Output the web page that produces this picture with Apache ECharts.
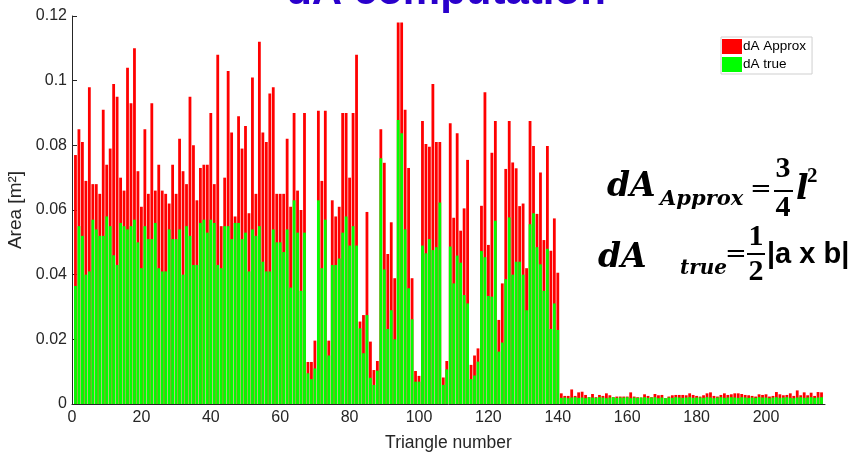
<!DOCTYPE html>
<html>
<head>
<meta charset="utf-8">
<script src="https://cdn.jsdelivr.net/npm/echarts@6/dist/echarts.min.js"></script>
<style>
  html, body { margin: 0; padding: 0; background: #fff; }
  #chart { width: 860px; height: 453px; }
</style>
</head>
<body>
<div id="chart"></div>
<script>
  // triangle 1..140 are the big ones, 141..216 the tiny tail
  let approxA = [
    0.077, 0.085, 0.081, 0.069, 0.098, 0.068, 0.068, 0.065, 0.091, 0.074,
    0.079, 0.099, 0.095, 0.070, 0.066, 0.104, 0.093, 0.110, 0.072, 0.061,
    0.085, 0.065, 0.093, 0.066, 0.074, 0.066, 0.065, 0.062, 0.074, 0.065,
    0.082, 0.072, 0.068, 0.095
  ];
  let approxB = [
    0.080, 0.063, 0.073, 0.074, 0.074, 0.090, 0.068, 0.108, 0.055, 0.070,
    0.103, 0.084, 0.058, 0.089, 0.079, 0.086, 0.059, 0.101, 0.065, 0.112,
    0.084, 0.081, 0.096, 0.098, 0.065, 0.065, 0.065, 0.082, 0.061, 0.090,
    0.066, 0.060, 0.090, 0.013, 0.013, 0.0196
  ];
  let approxC = [
    0.0907, 0.069, 0.0907, 0.0196, 0.063, 0.058, 0.061, 0.090, 0.090, 0.070,
    0.090, 0.108, 0.0255, 0.0275, 0.0594, 0.0193, 0.0105, 0.0133, 0.085, 0.0746,
    0.0464, 0.0562, 0.0389, 0.118, 0.118, 0.091, 0.073, 0.0389, 0.0102, 0.0087,
    0.0875, 0.0804, 0.0796, 0.099, 0.081, 0.081
  ];
  let approxD = [
    0.0082, 0.0133, 0.0868, 0.0576, 0.0837, 0.0536, 0.0605, 0.0755, 0.0121, 0.015,
    0.0172, 0.0613, 0.0964, 0.0492, 0.0777, 0.0875, 0.026, 0.0373, 0.0727, 0.0875,
    0.0747, 0.0729, 0.0612, 0.062, 0.042, 0.0875, 0.0798, 0.0588, 0.0716, 0.0507,
    0.0798, 0.0474, 0.0574, 0.0406
  ];
  let approxTail = [
    0.0033, 0.0025, 0.0025, 0.0045, 0.0025, 0.0036, 0.0038, 0.0028, 0.0021, 0.0031,
    0.0021, 0.0028, 0.0025, 0.0033, 0.0027, 0.0021, 0.0023, 0.0023, 0.0023, 0.0023,
    0.0036, 0.0023, 0.0021, 0.0020, 0.0030, 0.0025, 0.0021, 0.0031, 0.0027, 0.0028,
    0.0018, 0.0023, 0.0027, 0.0028, 0.0028, 0.0028, 0.0027, 0.0033, 0.0028, 0.0025,
    0.0023, 0.0027, 0.0033, 0.0036, 0.0025, 0.0023, 0.0028, 0.0033, 0.0028, 0.0030,
    0.0033, 0.0033, 0.0031, 0.0028, 0.0027, 0.0025, 0.0023, 0.0030, 0.0028, 0.0030,
    0.0023, 0.0025, 0.0037, 0.0030, 0.0027, 0.0028, 0.0033, 0.0025, 0.0042, 0.0027,
    0.0036, 0.0027, 0.0035, 0.0025, 0.0037, 0.0036
  ];

  let trueA = [
    0.0365, 0.055, 0.052, 0.040, 0.041, 0.057, 0.054, 0.052, 0.052, 0.058,
    0.055, 0.046, 0.043, 0.056, 0.055, 0.054, 0.055, 0.057, 0.050, 0.042,
    0.055, 0.051, 0.051, 0.056, 0.042, 0.041, 0.041, 0.054, 0.051, 0.051,
    0.054, 0.040, 0.055, 0.052
  ];
  let trueB = [
    0.043, 0.043, 0.056, 0.057, 0.053, 0.057, 0.056, 0.043, 0.042, 0.055,
    0.055, 0.051, 0.056, 0.056, 0.051, 0.053, 0.041, 0.054, 0.052, 0.055,
    0.044, 0.041, 0.041, 0.054, 0.050, 0.050, 0.047, 0.054, 0.036, 0.063,
    0.053, 0.035, 0.053, 0.0095, 0.0077, 0.011
  ];
  let trueC = [
    0.063, 0.042, 0.057, 0.015, 0.043, 0.043, 0.045, 0.053, 0.058, 0.049,
    0.055, 0.049, 0.0234, 0.0157, 0.0275, 0.0081, 0.0059, 0.0103, 0.076, 0.0416,
    0.0232, 0.029, 0.020, 0.0878, 0.0837, 0.054, 0.0358, 0.0262, 0.0069, 0.0069,
    0.049, 0.0466, 0.051, 0.0476, 0.0485, 0.0623
  ];
  let trueD = [
    0.0059, 0.0107, 0.0487, 0.0373, 0.0459, 0.0437, 0.0337, 0.0311, 0.0077, 0.0088,
    0.0131, 0.0473, 0.0454, 0.0334, 0.0332, 0.0567, 0.0162, 0.019, 0.0386, 0.0577,
    0.040, 0.044, 0.044, 0.040, 0.029, 0.0556, 0.059, 0.0485, 0.0432, 0.035,
    0.048, 0.0232, 0.0311, 0.0229
  ];
  let trueTail = [
    0.0019, 0.0020, 0.0018, 0.0020, 0.0021, 0.0019, 0.0020, 0.0018, 0.0021, 0.0020,
    0.0019, 0.0021, 0.0020, 0.0018, 0.0020, 0.0021, 0.0019, 0.0020, 0.0020, 0.0021,
    0.0018, 0.0020, 0.0019, 0.0020, 0.0021, 0.0019, 0.0020, 0.0021, 0.0018, 0.0020,
    0.0018, 0.0020, 0.0019, 0.0021, 0.0020, 0.0019, 0.0020, 0.0021, 0.0019, 0.0020,
    0.0020, 0.0019, 0.0021, 0.0020, 0.0018, 0.0020, 0.0021, 0.0019, 0.0020, 0.0021,
    0.0020, 0.0019, 0.0021, 0.0020, 0.0019, 0.0020, 0.0019, 0.0021, 0.0020, 0.0020,
    0.0018, 0.0020, 0.0021, 0.0019, 0.0020, 0.0021, 0.0019, 0.0018, 0.0020, 0.0021,
    0.0019, 0.0020, 0.0021, 0.0019, 0.0020, 0.0021
  ];

  let xTicks = [0, 20, 40, 60, 80, 100, 120, 140, 160, 180, 200];

  let approxAll = approxA.concat(approxB, approxC, approxD, approxTail);
  let trueAll = trueA.concat(trueB, trueC, trueD, trueTail);
  // [triangle number, area]
  let approxData = approxAll.map((v, i) => [i + 1, v]);
  let trueData = trueAll.map((v, i) => [i + 1, v]);

  let axisColor = '#262626';
  let fontSans = 'Liberation Sans, Arial, sans-serif';
  let fontMath = 'DejaVu Serif, serif';
  let fontDigit = 'Liberation Serif, serif';

  function txt(x, y, text, font, align) {
    return {
      type: 'text', x: x, y: y,
      style: { text: text, fill: '#000', font: font, textAlign: align || 'left', textVerticalAlign: 'middle' }
    };
  }

  let myChart = echarts.init(document.getElementById('chart'));
  let option = {
    animation: false,
    backgroundColor: '#fff',
    grid: { left: 72, right: 35, top: 16, bottom: 49, containLabel: false, outerBoundsMode: 'none' },
    legend: {
      orient: 'vertical',
      left: 721,
      top: 37,
      padding: [2, 6, 2, 1],
      itemGap: 3,
      itemWidth: 20,
      itemHeight: 15,
      icon: 'rect',
      backgroundColor: '#fff',
      borderColor: '#cfcfcf',
      borderWidth: 1,
      borderRadius: 0,
      textStyle: { color: '#000', fontSize: 13.5, fontFamily: fontSans, padding: [0, 0, 0, -4] },
      data: ['dA Approx', 'dA true']
    },
    xAxis: {
      type: 'value',
      min: 0,
      max: 217,
      interval: 20,
      name: 'Triangle number',
      nameLocation: 'middle',
      nameGap: 30,
      nameTextStyle: { color: axisColor, fontSize: 17.5, fontFamily: fontSans },
      axisLine: { show: true, lineStyle: { color: axisColor, width: 1 } },
      axisTick: { show: true, inside: true, length: 5, customValues: xTicks, lineStyle: { color: axisColor } },
      axisLabel: { customValues: xTicks, color: axisColor, fontSize: 16, fontFamily: fontSans, margin: 6 },
      splitLine: { show: false }
    },
    yAxis: {
      type: 'value',
      min: 0,
      max: 0.12,
      interval: 0.02,
      name: 'Area [m²]',
      nameLocation: 'middle',
      nameGap: 38,
      nameRotate: 90,
      nameTextStyle: { color: axisColor, fontSize: 19, fontFamily: fontSans },
      axisLine: { show: true, lineStyle: { color: axisColor, width: 1 } },
      axisTick: { show: true, inside: true, length: 5, lineStyle: { color: axisColor } },
      axisLabel: {
        color: axisColor, fontSize: 16, fontFamily: fontSans, margin: 5,
        formatter: function (v) { return v === 0 ? '0' : String(+v.toFixed(2)); }
      },
      splitLine: { show: false }
    },
    series: [
      {
        name: 'dA Approx',
        type: 'bar',
        data: approxData,
        barWidth: 2.8,
        barGap: '-100%',
        itemStyle: { color: '#ff0000' }
      },
      {
        name: 'dA true',
        type: 'bar',
        data: trueData,
        barWidth: 2.8,
        barGap: '-100%',
        itemStyle: { color: '#00ff00' }
      }
    ],
    graphic: [
      // title, cut off at the top of the figure
      { type: 'text', x: 446, y: -8, style: { text: 'dA computation', fill: '#2a00cc', font: 'bold 42px ' + fontSans, textAlign: 'center', textVerticalAlign: 'middle' } },

      // dA_Approx = 3/4 l^2
      txt(607, 187, 'dA', 'italic bold 33px ' + fontMath),
      txt(660, 200, 'Approx', 'italic bold 21px ' + fontMath),
      txt(761, 190, '=', '26px ' + fontMath, 'center'),
      txt(783, 169, '3', 'bold 30px ' + fontDigit, 'center'),
      { type: 'line', shape: { x1: 774, y1: 191, x2: 793, y2: 191 }, style: { stroke: '#000', lineWidth: 2 } },
      txt(783, 208, '4', 'bold 30px ' + fontDigit, 'center'),
      txt(796, 190, 'l', 'italic bold 33px ' + fontMath),
      txt(807, 177, '2', 'bold 21px ' + fontDigit),

      // dA_true = 1/2 |a x b|
      txt(598, 258, 'dA', 'italic bold 33px ' + fontMath),
      txt(680, 269, 'true', 'italic bold 20px ' + fontMath),
      txt(736, 255, '=', '26px ' + fontMath, 'center'),
      txt(756, 237, '1', 'bold 30px ' + fontDigit, 'center'),
      { type: 'line', shape: { x1: 747, y1: 254, x2: 765, y2: 254 }, style: { stroke: '#000', lineWidth: 2 } },
      txt(756, 272, '2', 'bold 30px ' + fontDigit, 'center'),
      txt(767, 255, '|a x b|', 'bold 29px ' + fontSans)
    ]
  };
  myChart.setOption(option);
</script>
</body>
</html>
